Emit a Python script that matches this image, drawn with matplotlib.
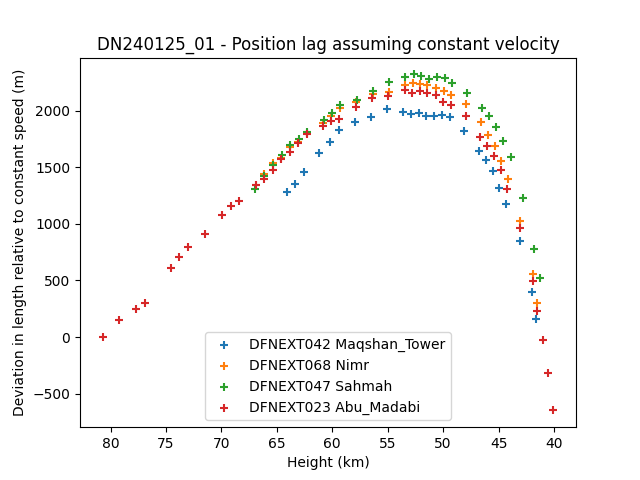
import numpy as np
from matplotlib import pyplot as plt

# DFNEXT042 Maqshan_Tower
h_042 = [64.07, 63.35, 62.53, 61.18, 60.19, 59.38, 57.93, 56.49, 55.04, 53.60,
         52.87, 52.15, 51.52, 50.79, 50.07, 49.35, 48.08, 46.73, 46.10, 45.46,
         44.92, 44.29, 43.11, 42.03, 41.58]
d_042 = [1278, 1349, 1455, 1623, 1720, 1826, 1897, 1941, 2011, 1985,
         1967, 1976, 1950, 1950, 1958, 1941, 1817, 1640, 1561, 1467,
         1314, 1172, 848, 395, 163]

# DFNEXT068 Nimr
h_068 = [66.90, 66.18, 65.37, 64.64, 63.83, 63.08, 62.27, 60.82, 60.10, 59.29,
         57.84, 56.31, 54.86, 53.41, 52.69, 52.06, 51.43, 50.61, 49.89, 49.26,
         47.90, 46.55, 45.91, 45.28, 44.74, 44.11, 43.03, 41.94, 41.49]
d_068 = [1345, 1443, 1537, 1581, 1678, 1728, 1800, 1890, 1952, 2020,
         2073, 2150, 2162, 2223, 2241, 2232, 2223, 2197, 2170, 2135,
         2056, 1897, 1782, 1687, 1555, 1396, 1022, 560, 300]

# DFNEXT047 Sahmah
h_047 = [66.99, 66.18, 65.37, 64.55, 63.83, 62.99, 62.27, 60.73, 60.01, 59.29,
         57.75, 56.31, 54.86, 53.41, 52.60, 51.97, 51.25, 50.52, 49.80, 49.17,
         47.81, 46.46, 45.82, 45.19, 44.56, 43.92, 42.84, 41.76, 41.22]
d_047 = [1305, 1420, 1517, 1605, 1700, 1746, 1811, 1920, 1979, 2047,
         2091, 2170, 2250, 2294, 2321, 2303, 2276, 2294, 2285, 2241,
         2153, 2020, 1950, 1855, 1731, 1590, 1225, 777, 521]

# DFNEXT023 Abu_Madabi
h_023 = [80.72, 79.22, 77.71, 76.90, 74.58, 73.83, 73.04, 71.51, 69.97, 69.16,
         68.44, 66.90, 66.18, 65.37, 64.64, 63.83, 63.08, 62.27, 60.82, 60.10,
         59.38, 57.84, 56.40, 54.95, 53.41, 52.78, 52.06, 51.43, 50.61, 49.98,
         49.26, 47.90, 46.64, 46.00, 45.37, 44.74, 44.20, 43.03, 41.94, 41.49,
         40.95, 40.51, 40.05]
d_023 = [0, 150, 245, 300, 607, 707, 795, 910, 1078, 1157,
         1201, 1343, 1399, 1473, 1570, 1635, 1714, 1793, 1864, 1906,
         1923, 2029, 2109, 2126, 2179, 2161, 2170, 2161, 2135, 2073,
         2047, 1950, 1771, 1685, 1602, 1473, 1305, 960, 492, 230,
         -29, -321, -648]

fig, ax = plt.subplots(figsize=(6.4, 4.8), dpi=100)

ax.scatter(h_042, d_042, marker='+', label='DFNEXT042 Maqshan_Tower')
ax.scatter(h_068, d_068, marker='+', label='DFNEXT068 Nimr')
ax.scatter(h_047, d_047, marker='+', label='DFNEXT047 Sahmah')
ax.scatter(h_023, d_023, marker='+', label='DFNEXT023 Abu_Madabi')

ax.invert_xaxis()
ax.set_title('DN240125_01 - Position lag assuming constant velocity')
ax.set_xlabel('Height (km)')
ax.set_ylabel('Deviation in length relative to constant speed (m)')
ax.legend(loc='lower center')

plt.savefig('out.png')
